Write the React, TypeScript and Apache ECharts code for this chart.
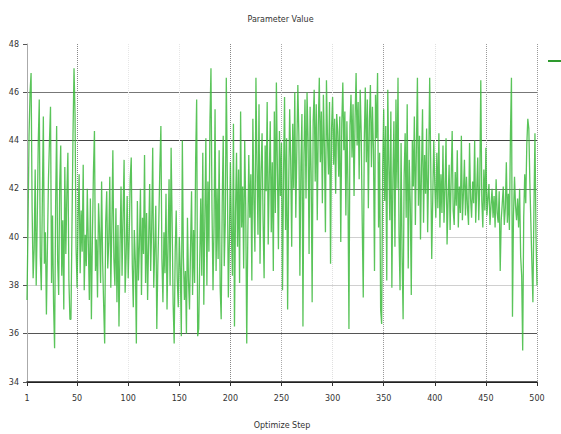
import React, { useEffect, useRef } from "react";
import * as echarts from "echarts";

const titleText = "Parameter Value";
const xAxisName = "Optimize Step";
const seriesName = "Value";
const yTicks = [34, 36, 38, 40, 42, 44, 46, 48];
const xTickSteps = [1, 50, 100, 150, 200, 250, 300, 350, 400, 450, 500];

const values: number[] = [
  37.4, 40.5, 44.2, 46.0, 46.8, 41.2, 38.3, 39.5, 42.8, 38.0,
  40.6, 43.9, 45.7, 39.2, 37.8, 41.5, 45.0, 38.9, 40.2, 36.8,
  39.6, 42.4, 44.0, 45.4, 38.1, 40.9, 37.2, 35.4, 41.3, 44.6,
  39.0, 37.6, 42.2, 43.8, 38.4, 40.7, 37.0, 42.9, 39.3, 41.8,
  43.5, 38.2, 36.6, 36.6, 40.4, 44.2, 47.0, 45.1, 39.6, 37.9,
  40.8, 42.6, 38.5, 41.1, 39.4, 43.0, 37.8, 40.1, 38.8, 42.0,
  39.7, 37.4, 41.6, 36.6, 40.0, 42.7, 44.4, 38.6, 39.9, 37.5,
  41.4, 40.2, 38.1, 42.3, 39.0, 37.2, 35.6, 40.6, 41.9, 38.7,
  39.8, 42.5, 37.9, 40.4, 43.6, 39.1, 38.0, 41.2, 37.3, 40.5,
  36.3, 39.6, 42.1, 38.4, 40.9, 43.2, 37.7, 39.2, 41.7, 38.3,
  40.0, 42.4, 43.3, 38.9, 37.1, 40.3, 39.0, 35.6, 41.5, 38.2,
  39.7, 42.0, 37.6, 40.8, 39.3, 43.4, 38.1, 41.0, 37.4, 39.8,
  42.2, 38.6, 40.4, 43.7, 37.9, 39.5, 41.3, 36.2, 38.8, 40.7,
  42.9, 44.6, 39.1, 37.3, 40.2, 38.5, 41.8, 37.0, 39.6, 42.4,
  38.0, 43.7, 40.6, 37.2, 35.6, 39.4, 41.1, 38.3, 37.1, 40.0,
  38.7, 35.9, 44.0, 39.2, 37.4, 38.6, 36.0, 40.8, 38.2, 37.0,
  39.5, 41.9, 37.6, 40.3, 38.1, 43.2, 45.7, 35.9, 36.2, 39.0,
  41.6, 38.4, 43.5, 37.2, 40.7, 44.1, 38.0, 42.3, 39.4, 44.8,
  47.0, 41.2, 37.8, 40.5, 45.3, 38.6, 42.0, 39.1, 43.6, 37.9,
  36.6, 41.4, 44.2, 38.8, 40.6, 46.6, 42.5, 37.5, 39.8, 43.1,
  40.2, 38.4, 44.7, 36.3, 41.0, 43.5, 39.6, 42.8, 38.1, 45.2,
  40.4, 42.1, 38.7, 44.0, 41.3, 35.6, 39.9, 43.4, 40.8, 42.6,
  38.2, 44.9, 41.5, 39.4, 46.6, 43.0, 40.1, 45.5, 38.9, 42.7,
  44.3, 40.6, 38.3, 43.8, 41.9, 45.6, 39.7, 42.4, 44.8, 40.2,
  43.1, 38.6, 45.2, 41.0, 46.4, 42.8, 39.5, 44.4, 41.7, 43.9,
  37.8, 42.6, 45.8, 40.3, 44.1, 37.0, 41.9, 45.3, 43.2, 39.6,
  44.7, 42.0, 46.0, 40.8, 43.6, 46.3, 44.2, 38.4, 42.9, 45.1,
  36.3, 43.4, 45.7, 41.6, 46.0, 44.0, 39.3, 45.4, 42.7, 37.3,
  44.8, 46.1, 42.3, 45.5, 40.7, 44.6, 46.6, 43.1, 45.2, 41.4,
  45.9, 43.7, 40.2, 46.5, 44.1, 42.6, 45.6, 38.9, 44.5, 45.8,
  43.0, 44.9, 41.8, 45.1, 44.4, 42.5, 45.0, 39.8, 44.7, 46.4,
  43.6, 45.2, 40.9, 44.8, 42.2, 36.2, 44.6, 45.9, 43.3, 45.5,
  41.7, 44.9, 46.8, 43.8, 45.6, 42.4, 46.1, 44.3, 40.6, 37.5,
  44.0, 46.2, 43.1, 45.7, 41.2, 44.8, 46.3, 42.9, 45.4, 43.6,
  38.6, 45.9, 44.1, 46.8, 40.4, 43.5, 37.0, 36.4, 42.8, 45.3,
  41.5, 44.6, 38.2, 46.1, 43.0, 40.7, 45.2, 37.9, 42.4, 44.8,
  39.6, 45.7, 42.0, 46.6, 40.1, 37.8, 43.9, 39.2, 36.6, 42.5,
  44.3, 40.8, 45.5, 38.7, 43.2, 41.4, 37.6, 44.0, 42.1, 45.0,
  40.5, 43.7, 46.6, 41.3, 44.2, 39.9, 42.8, 45.3, 40.6, 43.4,
  41.8, 44.5, 40.2, 42.9, 46.6, 43.1, 39.1, 41.6, 44.0, 42.2,
  40.8, 43.5, 41.2, 44.3, 40.4, 42.6, 41.0, 43.8, 40.6, 42.0,
  44.1, 39.7, 41.5, 43.0, 40.3, 42.4, 44.4, 41.1, 40.5, 42.7,
  41.3, 43.6, 40.4, 42.1, 41.0, 44.2, 40.7, 41.8, 43.2, 40.9,
  42.5, 41.2, 40.5, 43.9, 41.6, 40.8, 42.3, 41.4, 44.0, 40.6,
  41.9, 43.3, 40.7, 42.2, 46.5, 41.5, 40.4, 42.8, 41.1, 43.7,
  40.9, 41.6, 42.2, 40.5, 41.3, 42.0, 40.8, 41.7, 40.4, 42.4,
  41.0, 40.6, 41.9, 38.6, 40.7, 41.4, 42.1, 40.5, 41.2, 43.1,
  40.6, 41.8, 40.3, 44.2, 46.6, 36.7, 40.9, 42.5, 41.3, 40.7,
  41.6, 40.4, 42.0, 39.2, 38.4, 35.3, 40.8, 42.6, 41.4, 43.8,
  44.9, 44.5, 42.3, 40.6, 38.9, 37.3, 41.2, 44.3, 40.1, 38.0,
];

const steps: string[] = values.map((_, i) => String(i + 1));

export default function App() {
  const ref = useRef<HTMLDivElement>(null);
  useEffect(() => {
    if (!ref.current) return;
    const chart = echarts.init(ref.current, null, { renderer: "svg" });
    const showTick = (i: number) => xTickSteps.includes(i + 1);
    chart.setOption({
      animation: false,
      backgroundColor: "#ffffff",
      title: {
        text: titleText,
        left: "center",
        top: 10,
        textStyle: { fontSize: 8, fontWeight: "normal", color: "#333", fontFamily: "DejaVu Sans" },
      },
      legend: {
        show: true,
        left: 543,
        top: 55,
        icon: "rect",
        itemWidth: 16,
        itemHeight: 2,
        formatter: () => "",
        data: [seriesName],
      },
      grid: { left: 27, right: 24, top: 44, bottom: 52, containLabel: false },
      xAxis: {
        type: "category",
        data: steps,
        boundaryGap: false,
        name: xAxisName,
        nameLocation: "middle",
        nameGap: 39,
        nameTextStyle: { fontSize: 8, color: "#333", fontFamily: "DejaVu Sans" },
        axisLine: { lineStyle: { color: "#222", width: 1.5 } },
        axisTick: { show: true, interval: (i: number) => showTick(i), length: 4, lineStyle: { color: "#333" } },
        axisLabel: {
          interval: (i: number) => showTick(i),
          fontSize: 8,
          color: "#333",
          margin: 12,
          fontFamily: "DejaVu Sans",
        },
        splitLine: {
          show: true,
          interval: (i: number) => showTick(i),
          lineStyle: {
            type: "dotted",
            color: ["#cccccc", "#888888", "#e6e6e6", "#e6e6e6", "#888888", "#aaaaaa", "#e0e0e0", "#999999", "#e0e0e0", "#999999", "#999999"],
          },
        },
      },
      yAxis: {
        type: "value",
        min: 34,
        max: 48,
        interval: 2,
        axisLine: { show: true, lineStyle: { color: "#aaa" } },
        axisTick: { show: true, length: 4, lineStyle: { color: "#555" } },
        axisLabel: { fontSize: 8, color: "#333", margin: 8, fontFamily: "DejaVu Sans" },
        splitLine: {
          show: true,
          lineStyle: {
            color: ["#222222", "#555555", "#d0d0d0", "#d0d0d0", "#777777", "#444444", "#777777", "rgba(0,0,0,0)"],
          },
        },
      },
      series: [
        {
          name: seriesName,
          type: "line",
          data: values,
          showSymbol: false,
          symbol: "none",
          lineStyle: { color: "#3dba3d", width: 1.3, opacity: 0.85 },
          itemStyle: { color: "#2e9a2e" },
        },
      ],
    });
    return () => chart.dispose();
  }, []);
  return <div ref={ref} style={{ width: 561, height: 434, position: "absolute", left: 0, top: 0 }} />;
}
